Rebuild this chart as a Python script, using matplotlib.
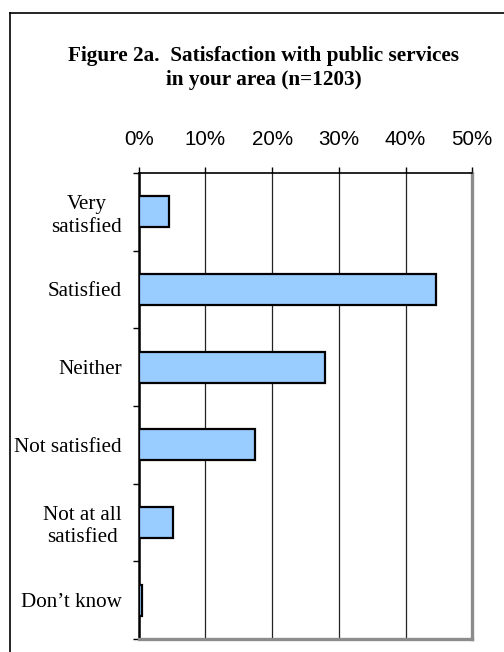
import matplotlib
matplotlib.use("Agg")
import matplotlib.pyplot as plt
from matplotlib.lines import Line2D
from matplotlib.ticker import FixedLocator, PercentFormatter

categories = ["Very\nsatisfied", "Satisfied", "Neither", "Not satisfied",
              "Not at all\nsatisfied", "Don\u2019t know"]
percent = [4.6, 44.5, 27.9, 17.5, 5.1, 0.5]
x_ticks = [0, 10, 20, 30, 40, 50]
title = "Figure 2a.  Satisfaction with public services\nin your area (n=1203)"

W, H, DPI = 504, 652, 100
fig = plt.figure(figsize=(W / DPI, H / DPI), dpi=DPI)
fig.patch.set_facecolor("white")

# Outer frame (left and top edges)
fig.add_artist(Line2D([10 / W, 10 / W], [0, 1 - 13 / H], transform=fig.transFigure,
                      color="black", lw=1.2))
fig.add_artist(Line2D([10 / W, 1], [1 - 13 / H, 1 - 13 / H], transform=fig.transFigure,
                      color="black", lw=1.2))

fig.text(264 / W, 1 - 68 / H, title, ha="center", va="center",
         family="Liberation Serif", weight="bold", fontsize=15.3, linespacing=1.2)

left, right, top, bottom = 138.7, 472.2, 173, 639
ax = fig.add_axes([left / W, 1 - bottom / H, (right - left) / W, (bottom - top) / H])

n = len(categories)
ypos = list(range(n))
ax.barh(ypos, percent, height=0.4, color="#99CCFF", edgecolor="black",
        linewidth=1.6, zorder=3)

ax.set_xlim(0, 50)
ax.set_ylim(n - 0.5, -0.5)

ax.xaxis.tick_top()
ax.set_xticks(x_ticks)
ax.xaxis.set_major_formatter(PercentFormatter(decimals=0))
ax.tick_params(axis="x", which="major", direction="out", length=4.5, width=1,
               color="black", pad=13, labelsize=14.8)
for lab in ax.get_xticklabels():
    lab.set_family("Liberation Sans")

ax.set_yticks(ypos)
ax.set_yticklabels(categories, family="Liberation Serif", fontsize=15.2,
                   multialignment="center", linespacing=1.25)
ax.tick_params(axis="y", which="major", length=0, pad=12)
ax.yaxis.set_minor_locator(FixedLocator([i - 0.5 for i in range(n + 1)]))
ax.tick_params(axis="y", which="minor", direction="out", length=4, width=1,
               color="black")

ax.grid(axis="x", color="#222222", lw=0.9, zorder=1)
ax.set_axisbelow(True)

ax.spines["top"].set_color("black")
ax.spines["top"].set_linewidth(1.2)
ax.spines["left"].set_color("black")
ax.spines["left"].set_linewidth(1.8)
ax.spines["bottom"].set_color("#8c8c8c")
ax.spines["bottom"].set_linewidth(2.4)
ax.spines["right"].set_color("#8c8c8c")
ax.spines["right"].set_linewidth(2.4)

fig.savefig("out.png", dpi=DPI, facecolor="white")
